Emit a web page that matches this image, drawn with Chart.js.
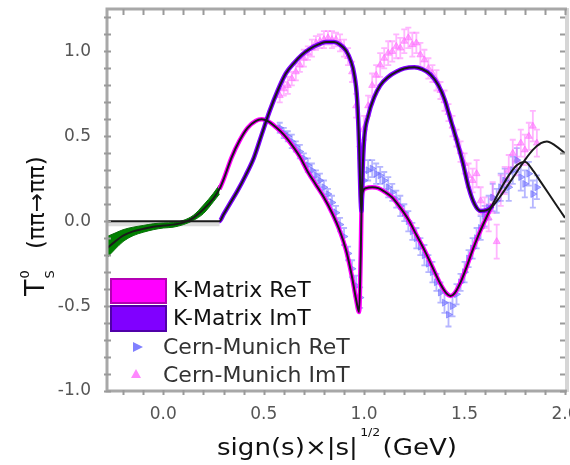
<!DOCTYPE html>
<html><head><meta charset="utf-8">
<script src="https://cdn.jsdelivr.net/npm/chart.js@4/dist/chart.umd.min.js"></script>
<style>html,body{margin:0;padding:0;background:#fff}canvas{display:block}</style>
</head><body>
<canvas id="c" width="570" height="465"></canvas>
<script>
// ---------- K-Matrix ReT (central curve) ----------
const reX = [-0.28,-0.24,-0.2,-0.15,-0.1,-0.05,0,0.05,0.1,0.15,0.2,0.25,0.28,0.3,0.34,0.38,0.42,0.46,0.49,0.52,0.56,0.6,0.64,0.68,0.72,0.76,0.8,0.84,0.88,0.91,0.94,0.96,0.975,0.983,0.988,0.995,1.01,1.04,1.07,1.1,1.14,1.18,1.22,1.26,1.3,1.34,1.38,1.41,1.43,1.45,1.48,1.51,1.54,1.57,1.6,1.64,1.68,1.72,1.76,1.8,1.84,1.88,1.92,1.96,2.0];
const reY = [-0.16,-0.12,-0.085,-0.06,-0.045,-0.032,-0.025,-0.02,-0.008,0.02,0.07,0.135,0.19,0.245,0.375,0.475,0.55,0.59,0.60,0.59,0.555,0.51,0.45,0.38,0.29,0.215,0.14,0.05,-0.06,-0.17,-0.33,-0.46,-0.535,-0.2,0.12,0.18,0.195,0.20,0.195,0.175,0.14,0.08,0.01,-0.08,-0.17,-0.27,-0.37,-0.425,-0.44,-0.425,-0.36,-0.27,-0.17,-0.08,0.0,0.10,0.19,0.27,0.33,0.35,0.30,0.23,0.16,0.09,0.02];

// ---------- K-Matrix ImT (central curve) ----------
const imX = [-0.28,0.28,0.3,0.33,0.37,0.41,0.45,0.49,0.53,0.57,0.61,0.65,0.69,0.73,0.77,0.81,0.85,0.88,0.91,0.935,0.95,0.965,0.975,0.982,0.987,0.992,1.0,1.02,1.05,1.08,1.12,1.16,1.2,1.25,1.29,1.33,1.37,1.4,1.43,1.46,1.49,1.52,1.55,1.58,1.61,1.64,1.68,1.72,1.76,1.8,1.84,1.88,1.91,1.95,2.0];
const imY = [0,0,0.04,0.10,0.18,0.27,0.37,0.51,0.65,0.77,0.87,0.93,0.98,1.015,1.04,1.055,1.055,1.04,1.005,0.94,0.87,0.72,0.45,0.15,0.06,0.28,0.48,0.62,0.73,0.80,0.85,0.88,0.90,0.907,0.895,0.865,0.80,0.72,0.60,0.48,0.35,0.20,0.10,0.06,0.065,0.09,0.15,0.22,0.29,0.36,0.42,0.46,0.47,0.447,0.40];

// ---------- ReT uncertainty band below threshold (green) ----------
const greenX = [-0.28,-0.24,-0.2,-0.15,-0.1,-0.05,0,0.05,0.1,0.15,0.2,0.25,0.28];
const greenUpper = [-0.09,-0.07,-0.05,-0.035,-0.025,-0.015,-0.01,-0.008,0.005,0.035,0.095,0.165,0.215];
const greenLower = [-0.215,-0.165,-0.12,-0.085,-0.065,-0.05,-0.04,-0.035,-0.02,0.005,0.045,0.115,0.16];

// ---------- Cern-Munich data ----------
const cmX = [0.58,0.60,0.62,0.64,0.66,0.68,0.70,0.72,0.74,0.76,0.78,0.80,0.82,0.84,0.86,0.88,0.90,0.92,0.94,0.96,0.98,1.00,1.02,1.04,1.06,1.08,1.10,1.12,1.14,1.16,1.18,1.20,1.22,1.24,1.26,1.28,1.30,1.32,1.34,1.36,1.38,1.40,1.42,1.44,1.46,1.48,1.50,1.52,1.54,1.56,1.58,1.60,1.62,1.64,1.66,1.68,1.70,1.72,1.74,1.76,1.78,1.80,1.82,1.84,1.86];
const cmRe = [0.55,0.52,0.50,0.47,0.44,0.41,0.37,0.33,0.30,0.27,0.24,0.20,0.16,0.11,0.05,-0.02,-0.09,-0.19,-0.28,-0.38,-0.45,0.24,0.30,0.31,0.28,0.27,0.24,0.20,0.17,0.13,0.09,0.05,0.00,-0.06,-0.10,-0.15,-0.20,-0.25,-0.30,-0.36,-0.42,-0.48,-0.55,-0.50,-0.43,-0.36,-0.30,-0.22,-0.16,-0.10,-0.04,0.03,0.08,0.14,0.12,0.20,0.24,0.20,0.30,0.36,0.26,0.22,0.28,0.16,0.20];
const cmReErr = [0.03,0.03,0.03,0.04,0.03,0.04,0.03,0.04,0.04,0.03,0.04,0.04,0.03,0.04,0.04,0.04,0.05,0.04,0.05,0.06,0.06,0.05,0.06,0.05,0.06,0.05,0.05,0.06,0.05,0.05,0.06,0.05,0.06,0.05,0.06,0.05,0.06,0.05,0.06,0.05,0.06,0.06,0.07,0.06,0.06,0.05,0.06,0.05,0.06,0.06,0.07,0.06,0.07,0.08,0.07,0.08,0.07,0.08,0.08,0.07,0.08,0.08,0.07,0.08,0.07];
const cmIm = [0.74,0.78,0.80,0.84,0.88,0.92,0.96,0.99,1.02,1.05,1.06,1.07,1.08,1.07,1.07,1.05,1.02,0.97,0.88,0.68,0.45,0.55,0.68,0.80,0.86,0.92,0.96,0.99,1.00,1.03,1.02,1.06,1.08,1.04,1.05,0.98,0.95,0.90,0.87,0.83,0.77,0.71,0.64,0.56,0.49,0.41,0.34,0.27,0.24,0.28,0.12,0.05,0.02,0.14,-0.12,0.18,0.24,0.30,0.40,0.36,0.46,0.42,0.50,0.56,0.46];
const cmImErr = [0.04,0.04,0.05,0.04,0.05,0.04,0.05,0.04,0.05,0.04,0.04,0.05,0.04,0.05,0.04,0.05,0.05,0.05,0.06,0.07,0.08,0.07,0.06,0.07,0.06,0.07,0.06,0.07,0.06,0.07,0.06,0.07,0.06,0.07,0.06,0.07,0.06,0.06,0.05,0.06,0.05,0.06,0.05,0.06,0.05,0.06,0.06,0.07,0.07,0.08,0.08,0.09,0.08,0.09,0.10,0.09,0.08,0.09,0.08,0.09,0.08,0.09,0.08,0.09,0.08];

// ---------- tick labels ----------
const xTickValues = [0, 0.5, 1.0, 1.5, 2.0];
const xTickLabels = ['0.0', '0.5', '1.0', '1.5', '2.0'];
const yTickValues = [-1.0, -0.5, 0, 0.5, 1.0];
const yTickLabels = ['-1.0', '-0.5', '0.0', '0.5', '1.0'];

// ---------- legend ----------
const legendLabels = ['K-Matrix ReT', 'K-Matrix ImT', 'Cern-Munich ReT', 'Cern-Munich ImT'];

const FONT = '"DejaVu Sans", "Liberation Sans", sans-serif';
const pts = (xs, ys) => xs.map((x, i) => ({x, y: ys[i]}));
const labelFor = (vals, labels) => v => {
  const i = vals.findIndex(t => Math.abs(t - v) < 1e-6);
  return i >= 0 ? labels[i] : '';
};
const BAND_LO = 0.279, BAND_HI = 1.66;

const errorBars = {
  id: 'errorBars',
  beforeDatasetsDraw(chart) {
    const {ctx, chartArea: a} = chart;
    const xs = chart.scales.x, ys = chart.scales.y;
    ctx.save();
    ctx.beginPath(); ctx.rect(a.left, a.top, a.right - a.left, a.bottom - a.top); ctx.clip();
    ctx.lineWidth = 1.8;
    [[cmRe, cmReErr, 'rgba(110,110,255,0.5)'], [cmIm, cmImErr, 'rgba(255,110,255,0.5)']].forEach(([vals, errs, col]) => {
      ctx.strokeStyle = col;
      cmX.forEach((x, i) => {
        const px = xs.getPixelForValue(x);
        const y1 = ys.getPixelForValue(vals[i] - errs[i]);
        const y2 = ys.getPixelForValue(vals[i] + errs[i]);
        ctx.beginPath();
        ctx.moveTo(px, y1); ctx.lineTo(px, y2);
        ctx.moveTo(px - 3, y1); ctx.lineTo(px + 3, y1);
        ctx.moveTo(px - 3, y2); ctx.lineTo(px + 3, y2);
        ctx.stroke();
      });
    });
    ctx.restore();
  }
};

const decor = {
  id: 'decor',
  afterDraw(chart) {
    const {ctx, chartArea: a} = chart;
    const xs = chart.scales.x, ys = chart.scales.y;
    ctx.save();
    // frame
    ctx.fillStyle = '#d6d6d6';
    ctx.fillRect(a.right, a.top - 1, 4, a.bottom - a.top + 2);
    ctx.strokeStyle = '#a8a8a8';
    ctx.lineWidth = 3;
    ctx.beginPath();
    ctx.moveTo(a.right + 2, a.top); ctx.lineTo(a.left, a.top); ctx.lineTo(a.left, a.bottom); ctx.lineTo(a.right + 2, a.bottom);
    ctx.stroke();
    // ticks
    ctx.strokeStyle = '#9a9a9a';
    ctx.lineWidth = 2;
    ctx.beginPath();
    xs.ticks.forEach(t => {
      const px = Math.round(xs.getPixelForValue(t.value)) + 0.5;
      ctx.moveTo(px, a.bottom - 1); ctx.lineTo(px, a.bottom + 4);
      ctx.moveTo(px, a.top); ctx.lineTo(px, a.top + 6);
    });
    ys.ticks.forEach(t => {
      const py = Math.round(ys.getPixelForValue(t.value)) + 0.5;
      ctx.moveTo(a.left - 3, py); ctx.lineTo(a.left + 4, py);
      ctx.moveTo(a.right - 5, py); ctx.lineTo(a.right, py);
    });
    ctx.stroke();

    // x title
    ctx.fillStyle = '#111';
    ctx.textBaseline = 'alphabetic';
    ctx.textAlign = 'left';
    const m1 = 'sign(s)\u00d7|s|', sup = '1/2', m2 = '(GeV)';
    ctx.font = '23px ' + FONT;
    const w1 = ctx.measureText(m1).width, w3 = ctx.measureText(m2).width;
    ctx.font = '11px ' + FONT;
    const w2 = ctx.measureText(sup).width;
    const tot = w1 + 2 + w2 + 2 + w3;
    ctx.save();
    ctx.translate(217, 455);
    ctx.scale(240 / tot, 1);
    ctx.font = '23px ' + FONT; ctx.fillText(m1, 0, 0);
    ctx.font = '11px ' + FONT; ctx.fillText(sup, w1 + 2, -19);
    ctx.font = '23px ' + FONT; ctx.fillText(m2, w1 + 4 + w2, 0);
    ctx.restore();

    // y title (rotated)
    ctx.save();
    ctx.translate(44, 296);
    ctx.rotate(-Math.PI / 2);
    ctx.font = '27px ' + FONT;
    ctx.fillText('T', 0, 0);
    const wT = ctx.measureText('T').width;
    ctx.font = '13px ' + FONT;
    ctx.fillText('0', wT + 1, -15);
    ctx.fillText('S', wT + 1, 10);
    ctx.font = '23px ' + FONT;
    ctx.fillText('(\u03c0\u03c0\u2192\u03c0\u03c0)', 47, 0);
    ctx.restore();

    // legend
    ctx.lineWidth = 2;
    ctx.fillStyle = '#ff00ff'; ctx.fillRect(110, 278, 57, 26);
    ctx.strokeStyle = '#b400b4'; ctx.strokeRect(111, 279, 55, 24);
    ctx.fillStyle = '#8000ff'; ctx.fillRect(110, 305, 57, 27);
    ctx.strokeStyle = '#5000a8'; ctx.strokeRect(111, 306, 55, 25);
    // markers
    ctx.fillStyle = '#8080ff';
    ctx.beginPath(); ctx.moveTo(133, 342); ctx.lineTo(143, 347); ctx.lineTo(133, 352); ctx.closePath(); ctx.fill();
    ctx.fillStyle = '#ff88ff';
    ctx.beginPath(); ctx.moveTo(136, 369); ctx.lineTo(141, 378); ctx.lineTo(131, 378); ctx.closePath(); ctx.fill();
    ctx.font = '22px ' + FONT;
    ctx.textBaseline = 'middle';
    ctx.fillStyle = '#111';
    ctx.fillText(legendLabels[0], 173, 291);
    ctx.fillText(legendLabels[1], 173, 319);
    ctx.fillStyle = '#333';
    ctx.fillText(legendLabels[2], 163, 348);
    ctx.fillText(legendLabels[3], 163, 376);
    ctx.restore();
  }
};

const bandSeg = (inside, outside) => ({
  borderColor: c => (c.p0.parsed.x >= BAND_LO && c.p1.parsed.x <= BAND_HI) ? inside : outside
});

new Chart(document.getElementById('c'), {
  type: 'scatter',
  data: {
    datasets: [
      { label: 'green upper', data: pts(greenX, greenUpper), showLine: true, pointRadius: 0,
        borderColor: '#0a6a0a', borderWidth: 1, backgroundColor: '#008000', fill: '+1', order: 6, cubicInterpolationMode: 'monotone' },
      { label: 'green lower', data: pts(greenX, greenLower), showLine: true, pointRadius: 0,
        borderColor: '#0a6a0a', borderWidth: 1, fill: false, order: 6, cubicInterpolationMode: 'monotone' },
      { label: 'Cern-Munich ReT', data: pts(cmX, cmRe), pointStyle: 'triangle', pointRotation: 90, pointRadius: 4,
        pointBackgroundColor: 'rgba(110,110,255,0.55)', pointBorderColor: 'rgba(110,110,255,0.6)', pointBorderWidth: 1, order: 10 },
      { label: 'Cern-Munich ImT', data: pts(cmX, cmIm), pointStyle: 'triangle', pointRadius: 4,
        pointBackgroundColor: 'rgba(255,110,255,0.55)', pointBorderColor: 'rgba(255,110,255,0.6)', pointBorderWidth: 1, order: 10 },
      { label: 'ImT band', data: pts(imX, imY), showLine: true, pointRadius: 0, borderWidth: 4.5,
        borderColor: '#8000ff', segment: bandSeg('#8000ff', 'rgba(0,0,0,0)'), order: 5, cubicInterpolationMode: 'monotone' },
      { label: 'ReT band', data: pts(reX, reY), showLine: true, pointRadius: 0, borderWidth: 4.5,
        borderColor: '#ff00ff', segment: bandSeg('#ff00ff', 'rgba(0,0,0,0)'), order: 5, cubicInterpolationMode: 'monotone' },
      { label: 'ImT zero band', data: pts([imX[0], imX[1]], [imY[0] - 0.015, imY[1] - 0.015]), showLine: true, pointRadius: 0,
        borderWidth: 5, borderColor: '#dcdcdc', order: 7 },
      { label: 'K-Matrix ImT', data: pts(imX, imY), showLine: true, pointRadius: 0, borderWidth: 2,
        borderColor: '#1a1a1a', order: 1, cubicInterpolationMode: 'monotone' },
      { label: 'K-Matrix ReT', data: pts(reX, reY), showLine: true, pointRadius: 0, borderWidth: 2,
        borderColor: '#1a1a1a', order: 1, cubicInterpolationMode: 'monotone' }
    ]
  },
  options: {
    responsive: false,
    animation: false,
    layout: { padding: { top: 9, right: 4, left: 0, bottom: 0 } },
    plugins: { legend: { display: false }, tooltip: { enabled: false } },
    scales: {
      x: {
        type: 'linear', min: -0.28, max: 2.0,
        afterFit(s) { s.height = 74; s.paddingLeft = 0; s.paddingRight = 0; },
        grid: { display: false }, border: { display: false },
        ticks: { stepSize: 0.1, autoSkip: false, includeBounds: false, maxRotation: 0, minRotation: 0, padding: 5,
          font: { family: FONT, size: 17 }, color: '#555', callback: labelFor(xTickValues, xTickLabels) }
      },
      y: {
        type: 'linear', min: -1.0, max: 1.25,
        afterFit(s) { s.width = 107; s.paddingTop = 0; s.paddingBottom = 0; },
        grid: { display: false }, border: { display: false },
        ticks: { stepSize: 0.1, autoSkip: false, includeBounds: false, padding: 8,
          font: { family: FONT, size: 17 }, color: '#555', callback: labelFor(yTickValues, yTickLabels) }
      }
    }
  },
  plugins: [errorBars, decor]
});
</script>
</body></html>
